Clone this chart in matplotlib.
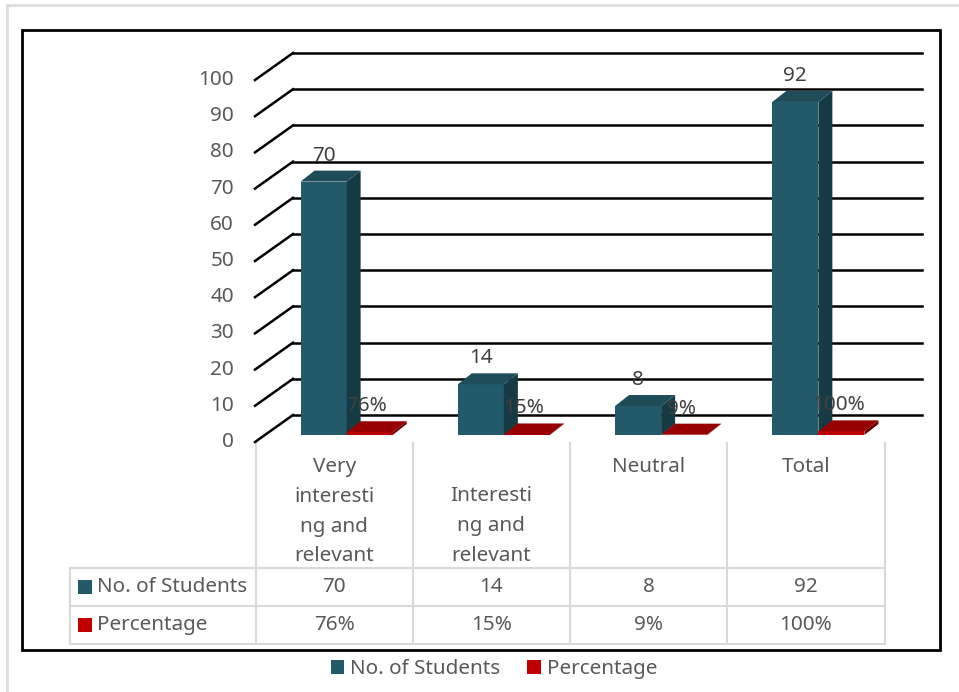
import matplotlib
matplotlib.use('Agg')
import matplotlib.pyplot as plt
from matplotlib.patches import Rectangle, Polygon
import numpy as np

plt.rcParams['font.family'] = ['Noto Sans', 'DejaVu Sans']

# data
categories = ['Very\ninteresti\nng and\nrelevant', 'Interesti\nng and\nrelevant', 'Neutral', 'Total']
students = [70, 14, 8, 92]
percentage = [0.76, 0.15, 0.09, 1.00]
pct_labels = ['76%', '15%', '9%', '100%']
series_names = ['No. of Students', 'Percentage']
yticks = list(range(0, 101, 10))

BLUE = '#225A69'
BLUE_SIDE = '#173B45'
BLUE_TOP = '#1E4D59'
RED = '#C00000'
RED_SIDE = '#6E0000'
RED_TOP = '#960000'
TXT = '#595959'
LBL = '#404040'
GRID_T = '#D9D9D9'
FS = 14.9

W, H = 959, 692
fig = plt.figure(figsize=(W / 100, H / 100), dpi=100)

# back wall of the 3d plot
ax = fig.add_axes([293 / W, (H - 415) / H, (922 - 293) / W, (415 - 53) / H])
ax.set_xlim(0, 4)
ax.set_ylim(0, 100)
ax.axis('off')


def px(dx, dy):
    # pixel offset -> data units (dy positive = up)
    o = ax.transData.transform((0, 0))
    p = ax.transData.inverted().transform((o[0] + dx, o[1] + dy))
    return p[0], p[1]


fx, fy = px(-38, -27)     # front edge of floor
bx, by = px(-25, -20)     # front plane of bars
dx, dy = px(14, 11)       # bar depth
lx, ly = px(0, 15)        # data label lift
w = 0.293

# gridlines + slanted floor edges
for v in yticks:
    ax.plot([0, 4], [v, v], color='black', lw=1.8, clip_on=False, zorder=1)
    ax.plot([fx, 0], [v + fy, v], color='black', lw=1.8, clip_on=False, zorder=1)
    ax.text(fx - px(21, 0)[0], v + fy, str(v), ha='right', va='center',
            fontsize=FS, color=TXT)


def bar3d(x0, v, front, side, top):
    x1 = x0 + w
    y0 = by
    y1 = by + v
    ax.add_patch(Rectangle((x0, y0), w, v, facecolor=front, edgecolor='none',
                           clip_on=False, zorder=3))
    ax.add_patch(Polygon([(x1, y0), (x1, y1), (x1 + dx, y1 + dy), (x1 + dx, y0 + dy)],
                         facecolor=side, edgecolor='none', clip_on=False, zorder=3))
    ax.add_patch(Polygon([(x0, y1), (x1, y1), (x1 + dx, y1 + dy), (x0 + dx, y1 + dy)],
                         facecolor=top, edgecolor='none', clip_on=False, zorder=3))


for i in range(len(categories)):
    c = i + 0.5 + bx
    bar3d(c - w, students[i], BLUE, BLUE_SIDE, BLUE_TOP)
    bar3d(c, percentage[i], RED, RED_SIDE, RED_TOP)
    ax.text(c - w / 2, by + students[i] + dy + ly, str(students[i]), ha='center',
            va='center', fontsize=FS, color=LBL, zorder=5)
    ax.text(c + w / 2 - px(3, 0)[0], by + percentage[i] + dy + ly, pct_labels[i],
            ha='center', va='center', fontsize=FS, color=LBL, zorder=5)

# overlay in pixel coordinates for the data table and frame
ov = fig.add_axes([0, 0, 1, 1], zorder=-1)
ov.set_xlim(0, W)
ov.set_ylim(H, 0)
ov.axis('off')

# outer light border and black frame
ov.plot([7, W], [5, 5], color='#DDDDDD', lw=2)
ov.plot([7, 7], [5, H], color='#DDDDDD', lw=2)
ov.add_patch(Rectangle((22, 30), 918, 620, facecolor='none', edgecolor='black', lw=2))

col_w = 157.25
col0 = 255.5
edges = [col0 + k * col_w for k in range(len(categories) + 1)]
row_y = [568, 606, 644]
for e in edges:
    ov.plot([e, e], [443, 644], color=GRID_T, lw=1.5)
ov.plot([70, 70], [568, 644], color=GRID_T, lw=1.5)
for r in row_y:
    ov.plot([70, edges[-1]], [r, r], color=GRID_T, lw=1.5)

label_top = [467, 496, 467, 467]
for i, cat in enumerate(categories):
    cx = (edges[i] + edges[i + 1]) / 2
    for j, line in enumerate(cat.split('\n')):
        ov.text(cx, label_top[i] + j * 29.8, line, ha='center', va='center',
                fontsize=FS, color=TXT)
    ov.text(cx, 587, str(students[i]), ha='center', va='center', fontsize=FS, color=TXT)
    ov.text(cx, 625, pct_labels[i], ha='center', va='center', fontsize=FS, color=TXT)

for k, (name, col) in enumerate(zip(series_names, [BLUE, RED])):
    yc = 587 + k * 38
    ov.add_patch(Rectangle((78, yc - 7), 14, 14, facecolor=col, edgecolor='none'))
    ov.text(97, yc, name, ha='left', va='center', fontsize=FS, color=TXT)

# legend
handles = [Rectangle((0, 0), 1, 1, facecolor=BLUE), Rectangle((0, 0), 1, 1, facecolor=RED)]
leg = fig.legend(handles, series_names, loc='center', bbox_to_anchor=(494 / W, 1 - 669 / H),
                 ncol=2, frameon=False, fontsize=FS, handlelength=0.65, handleheight=0.65,
                 handletextpad=0.3, columnspacing=1.3)
for t in leg.get_texts():
    t.set_color(TXT)

fig.savefig('out.png', dpi=100)
